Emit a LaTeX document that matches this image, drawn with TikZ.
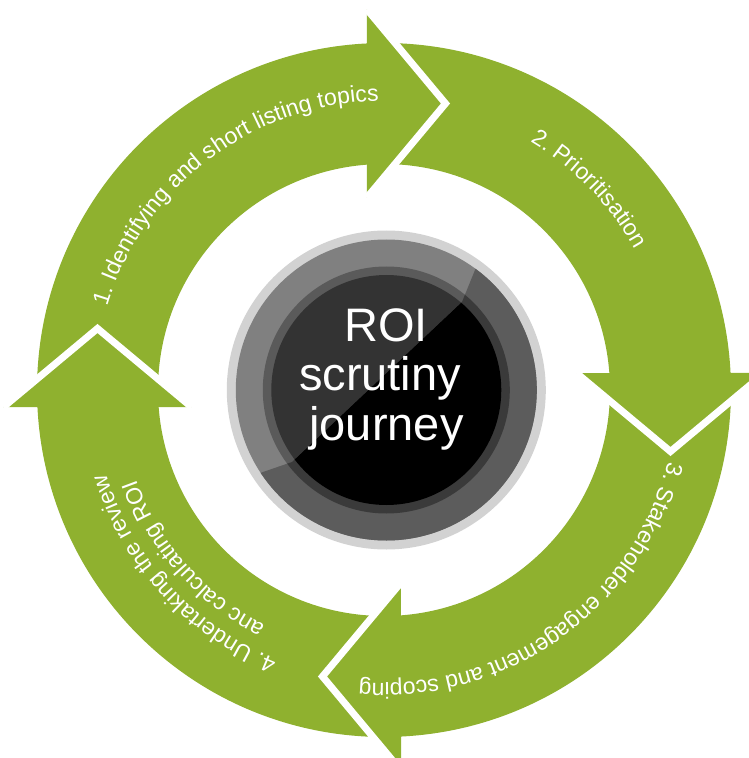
\documentclass[tikz,border=0pt]{standalone}
\usepackage{fontspec}
\setmainfont{Liberation Sans}
\usetikzlibrary{decorations.text}
\definecolor{arrowgreen}{RGB}{143,177,47}
\definecolor{ringlight}{RGB}{210,210,210}
\definecolor{midA}{RGB}{128,128,128}
\definecolor{midB}{RGB}{92,92,92}
\definecolor{darkA}{RGB}{90,90,90}
\definecolor{darkB}{RGB}{58,58,58}
\definecolor{coreA}{RGB}{51,51,51}
\definecolor{coreB}{RGB}{0,0,0}
\newcommand{\arclabelfont}{\fontsize{23}{23}\selectfont}
\begin{document}
\begin{tikzpicture}[x=1pt,y=1pt,
  arrowshape/.style={fill=arrowgreen},
  gapline/.style={draw=white, line width=7pt, line join=miter},
  centertext/.style={text=white, font=\fontsize{47}{47}\selectfont, inner sep=0pt, anchor=base},
  arclabel/.style={decorate, decoration={text along path, text color=white, text align=center}}
]
\useasboundingbox (-384,-368) rectangle (365,390);
% four curved arrows (arrow 1 drawn in its own frame, others rotated)
\foreach \k in {0,1,2,3}{
  \begin{scope}[rotate=-90*\k]
    \fill[arrowshape] (-346.82,11.12) arc[start angle=178.16, end angle=92.81, radius=347pt]
      -- (-17,380.5) -- (61.5,286.5) -- (-17,192.5) -- (-17,225.36)
      arc[start angle=94.31, end angle=177.27, radius=226pt]
      -- (-286.5,61.5) -- cycle;
  \end{scope}
}
\foreach \k in {0,1,2,3}{
  \begin{scope}[rotate=-90*\k]
    \draw[gapline] (-17,380.5) -- (61.5,286.5) -- (-17,192.5);
  \end{scope}
}
% labels along the arrows
\path[arclabel, decoration={text={|\arclabelfont|1. Identifying and short listing topics}}]
  (172.2:289) arc[start angle=172.2, end angle=82.2, radius=289pt];
\path[arclabel, decoration={text={|\arclabelfont|2. Prioritisation}}]
  (84.4:288) arc[start angle=84.4, end angle=4.4, radius=288pt];
\path[arclabel, decoration={text={|\arclabelfont|3. Stakeholder engagement and scoping}}]
  (-4.5:293) arc[start angle=-4.5, end angle=-104.5, radius=293pt];
\path[arclabel, decoration={text={|\arclabelfont|4. Undertaking the review}}]
  (262.6:290) arc[start angle=262.6, end angle=182.6, radius=290pt];
\path[arclabel, decoration={text={|\arclabelfont|anc calculating ROI}}]
  (256.5:263.5) arc[start angle=256.5, end angle=186.5, radius=263.5pt];
% central medallion
\coordinate (m) at (2.3,0);
\fill[ringlight] (m) circle[radius=159.5pt];
\fill[midA] (m) circle[radius=150.5pt];
\fill[darkA] (m) circle[radius=123.5pt];
\fill[coreA] (m) circle[radius=115pt];
\begin{scope}
  \clip (104,150) -- (91,120) -- (78,88) -- (-92,-72) -- (-121,-82) -- (-150,-92)
        -- (-150,-200) -- (200,-200) -- (200,150) -- cycle;
  \fill[midB] (m) circle[radius=150.5pt];
  \fill[darkB] (m) circle[radius=123.5pt];
  \fill[coreB] (m) circle[radius=115pt];
\end{scope}
\node[centertext] (roi) at (2,48.3) {ROI};
\node[centertext] (scrutiny) at (-4,0) {scrutiny};
\node[centertext] (journey) at (2.5,-50) {journey};
\end{tikzpicture}
\end{document}
